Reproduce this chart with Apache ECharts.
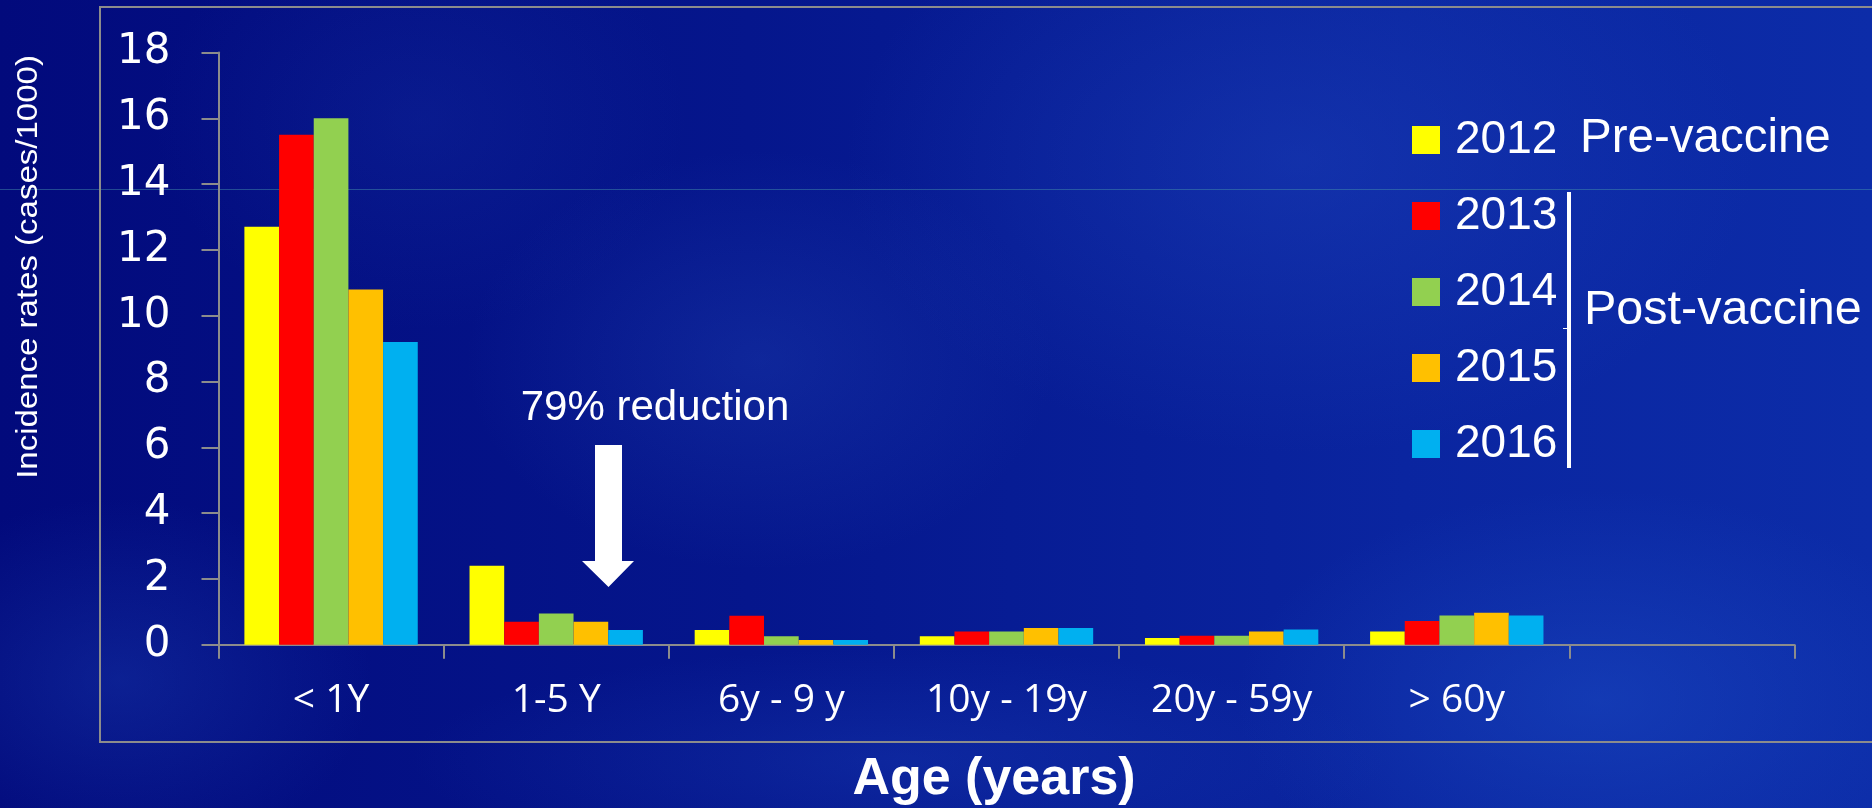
<!DOCTYPE html>
<html>
<head>
<meta charset="utf-8">
<script src="https://cdn.jsdelivr.net/npm/echarts@6/dist/echarts.min.js"></script>
<style>
  html, body { margin: 0; padding: 0; }
  body {
    width: 1872px; height: 808px; overflow: hidden;
    background:
      radial-gradient(ellipse 520px 300px at 1600px 700px, rgba(30,80,200,0.45), rgba(30,80,200,0) 70%),
      radial-gradient(ellipse 650px 420px at 1300px 160px, rgba(35,75,195,0.35), rgba(35,75,195,0) 70%),
      radial-gradient(ellipse 420px 300px at 760px 360px, rgba(40,80,190,0.28), rgba(40,80,190,0) 70%),
      radial-gradient(ellipse 360px 260px at 120px 680px, rgba(30,70,185,0.35), rgba(30,70,185,0) 70%),
      radial-gradient(ellipse 380px 300px at 420px 120px, rgba(25,55,170,0.25), rgba(25,55,170,0) 70%),
      radial-gradient(ellipse 700px 160px at 900px 760px, rgba(30,70,190,0.3), rgba(30,70,190,0) 70%),
      linear-gradient(90deg, #020a7c 0%, #05168c 40%, #0a25a0 75%, #0c2ca8 100%);
  }
  #chart { width: 1872px; height: 808px; }
</style>
</head>
<body>
<div id="chart"></div>
<script>
// ---- data ----
var categories = ['< 1Y', '1-5 Y', '6y - 9 y', '10y - 19y', '20y - 59y', '> 60y', ''];
var years = ['2012', '2013', '2014', '2015', '2016'];
var v2012 = [12.7, 2.4, 0.45, 0.26, 0.2, 0.4];
var v2013 = [15.5, 0.7, 0.88, 0.4, 0.27, 0.72];
var v2014 = [16.0, 0.95, 0.26, 0.4, 0.27, 0.89];
var v2015 = [10.8, 0.7, 0.14, 0.51, 0.4, 0.97];
var v2016 = [9.2, 0.45, 0.14, 0.51, 0.46, 0.89];
var yMin = 0, yMax = 18, yStep = 2;
var yTitle = 'Incidence rates (cases/1000)';
var xTitle = 'Age (years)';
var noteText = '79% reduction';
var preLabel = 'Pre-vaccine';
var postLabel = 'Post-vaccine';

// ---- style ----
var colors = ['#FFFF00', '#FF0000', '#92D050', '#FFC000', '#00B0F0'];
var seriesValues = [v2012, v2013, v2014, v2015, v2016];
var axisGray = '#8c8c8c';

var chart = echarts.init(document.getElementById('chart'), null, { renderer: 'canvas' });

var series = years.map(function (y, i) {
  return {
    name: y,
    type: 'bar',
    data: seriesValues[i],
    itemStyle: { color: colors[i] },
    barGap: '0%',
    barCategoryGap: '23%',
    animation: false
  };
});

var option = {
  backgroundColor: 'transparent',
  animation: false,
  color: colors,
  grid: { left: 218.5, right: 77.5, top: 52.5, bottom: 163.3, containLabel: false },
  legend: {
    data: years,
    orient: 'vertical',
    left: 1412,
    top: 117,
    padding: 0,
    itemWidth: 28,
    itemHeight: 28,
    itemGap: 30,
    icon: 'rect',
    selectedMode: false,
    textStyle: {
      color: '#ffffff',
      fontFamily: 'Liberation Sans, Arial, sans-serif',
      fontSize: 46,
      padding: [0, 0, 0, 10]
    }
  },
  xAxis: {
    type: 'category',
    data: categories,
    axisLine: { show: true, lineStyle: { color: axisGray, width: 2 } },
    axisTick: { show: true, inside: false, length: 14, lineStyle: { color: axisGray, width: 2 } },
    axisLabel: {
      color: '#ffffff',
      fontFamily: 'Open Sans, sans-serif',
      fontSize: 39,
      margin: 37,
      interval: 0
    },
    splitLine: { show: false }
  },
  yAxis: {
    type: 'value',
    min: yMin,
    max: yMax,
    interval: yStep,
    axisLine: { show: true, lineStyle: { color: axisGray, width: 2 } },
    axisTick: { show: true, inside: false, length: 17, lineStyle: { color: axisGray, width: 2 } },
    axisLabel: {
      color: '#ffffff',
      fontFamily: 'DejaVu Sans, sans-serif',
      fontSize: 42,
      margin: 48
    },
    splitLine: { show: false }
  },
  graphic: [
    { type: 'line', z: -10, silent: true,
      shape: { x1: 0, y1: 189.5, x2: 1872, y2: 189.5 },
      style: { stroke: 'rgba(70,150,170,0.45)', lineWidth: 1 } },
    { type: 'rect', z: -5, silent: true,
      shape: { x: 100, y: 7, width: 1800, height: 735 },
      style: { fill: 'none', stroke: axisGray, lineWidth: 2 } },
    { type: 'text', silent: true, x: 29, y: 267, rotation: Math.PI / 2, scaleX: 1.1,
      style: { text: yTitle, fill: '#ffffff', font: '30px "Liberation Sans", Arial, sans-serif',
               align: 'center', verticalAlign: 'middle' } },
    { type: 'text', silent: true, x: 994, y: 780,
      style: { text: xTitle, fill: '#ffffff', font: 'bold 52px "Liberation Sans", Arial, sans-serif',
               align: 'center', verticalAlign: 'middle' } },
    { type: 'text', silent: true, x: 655, y: 408,
      style: { text: noteText, fill: '#ffffff', font: '42px "Liberation Sans", Arial, sans-serif',
               align: 'center', verticalAlign: 'middle' } },
    { type: 'polygon', silent: true,
      shape: { points: [[595, 445], [622, 445], [622, 561], [634, 561], [608.5, 587], [582, 561], [595, 561]] },
      style: { fill: '#ffffff' } },
    { type: 'text', silent: true, x: 1580, y: 139,
      style: { text: preLabel, fill: '#ffffff', font: '47.5px "Liberation Sans", Arial, sans-serif',
               align: 'left', verticalAlign: 'middle' } },
    { type: 'text', silent: true, x: 1584, y: 311,
      style: { text: postLabel, fill: '#ffffff', font: '48.5px "Liberation Sans", Arial, sans-serif',
               align: 'left', verticalAlign: 'middle' } },
    { type: 'line', silent: true,
      shape: { x1: 1569, y1: 192, x2: 1569, y2: 468 },
      style: { stroke: '#ffffff', lineWidth: 4 } },
    { type: 'line', silent: true,
      shape: { x1: 1563, y1: 328.5, x2: 1569, y2: 328.5 },
      style: { stroke: '#ffffff', lineWidth: 1 } }
  ],
  series: series
};

chart.setOption(option);
</script>
</body>
</html>
